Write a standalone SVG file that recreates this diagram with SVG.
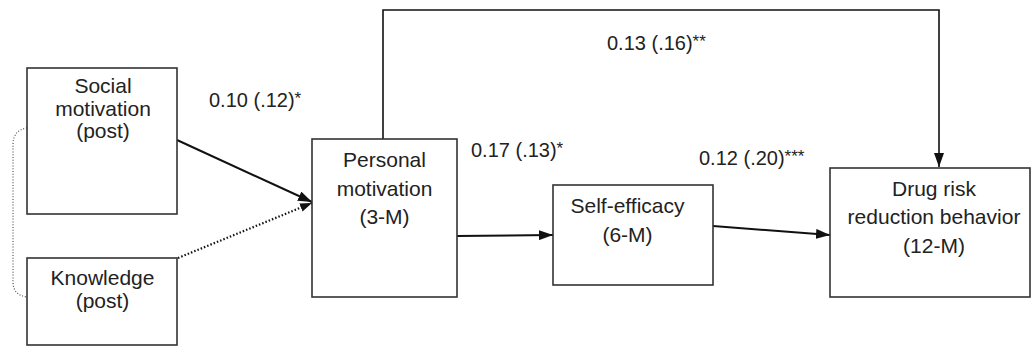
<svg xmlns="http://www.w3.org/2000/svg" width="1031" height="346" viewBox="0 0 1031 346">
<defs>
<style>
.box{fill:#fff;stroke:#333;stroke-width:1.6}
.t{font-family:"Liberation Sans",Arial,sans-serif;font-size:21px;fill:#222;text-anchor:middle}
.lbl{font-family:"Liberation Sans",Arial,sans-serif;font-size:20px;fill:#222}
.st{font-size:17px}
.c{fill:none;stroke:#111;stroke-width:2}
.dot{fill:none;stroke:#111;stroke-width:2.2;stroke-dasharray:1.5 2}
.br{fill:none;stroke:#555;stroke-width:1.2;stroke-dasharray:1 1.8}
</style>
<marker id="ah" viewBox="0 0 14 10" refX="14" refY="5" markerWidth="14" markerHeight="10" orient="auto" markerUnits="userSpaceOnUse">
<path d="M0,0 L14,5 L0,10 z" fill="#111"/>
</marker>
<marker id="ah2" viewBox="0 0 14 10" refX="14" refY="5" markerWidth="12" markerHeight="9" orient="auto" markerUnits="userSpaceOnUse">
<path d="M0,0 L14,5 L0,10 z" fill="#111"/>
</marker>
</defs>
<g id="connectors">
<path class="br" d="M27,128 Q13,130 13,145 L13,282 Q13,295 27,297"/>
<path class="c" d="M383,139 L383,10 L939,10 L939,167" marker-end="url(#ah)" style="stroke-width:1.6"/>
<line class="c" x1="177" y1="140" x2="312" y2="202" marker-end="url(#ah)"/>
<line class="dot" x1="178" y1="258" x2="312" y2="203" marker-end="url(#ah2)"/>
<line class="c" x1="457" y1="236" x2="553" y2="235" marker-end="url(#ah)"/>
<line class="c" x1="713" y1="226" x2="830" y2="235" marker-end="url(#ah)"/>
<text class="lbl" x="209" y="107">0.10 (.12)<tspan class="st" dy="-3">*</tspan></text>
<text class="lbl" x="607" y="50">0.13 (.16)<tspan class="st" dy="-3">**</tspan></text>
<text class="lbl" x="471" y="157">0.17 (.13)<tspan class="st" dy="-3">*</tspan></text>
<text class="lbl" x="699" y="165">0.12 (.20)<tspan class="st" dy="-3">***</tspan></text>
</g>
<g id="social">
<rect class="box" x="27" y="68" width="150" height="146"/>
<text class="t" x="103" y="93">Social</text>
<text class="t" x="103" y="116">motivation</text>
<text class="t" x="103" y="138">(post)</text>
</g>
<g id="knowledge">
<rect class="box" x="27" y="258" width="150" height="87"/>
<text class="t" x="102.5" y="285">Knowledge</text>
<text class="t" x="102.5" y="308">(post)</text>
</g>
<g id="personal">
<rect class="box" x="312" y="139" width="145" height="158"/>
<text class="t" x="384.5" y="167">Personal</text>
<text class="t" x="384.5" y="196">motivation</text>
<text class="t" x="384.5" y="224">(3-M)</text>
</g>
<g id="selfefficacy">
<rect class="box" x="553" y="185" width="160" height="100"/>
<text class="t" x="627.5" y="213">Self-efficacy</text>
<text class="t" x="627.5" y="242">(6-M)</text>
</g>
<g id="drug">
<rect class="box" x="830" y="168" width="200" height="129"/>
<text class="t" x="934" y="196">Drug risk</text>
<text class="t" x="934" y="224">reduction behavior</text>
<text class="t" x="934" y="253">(12-M)</text>
</g>
</svg>
